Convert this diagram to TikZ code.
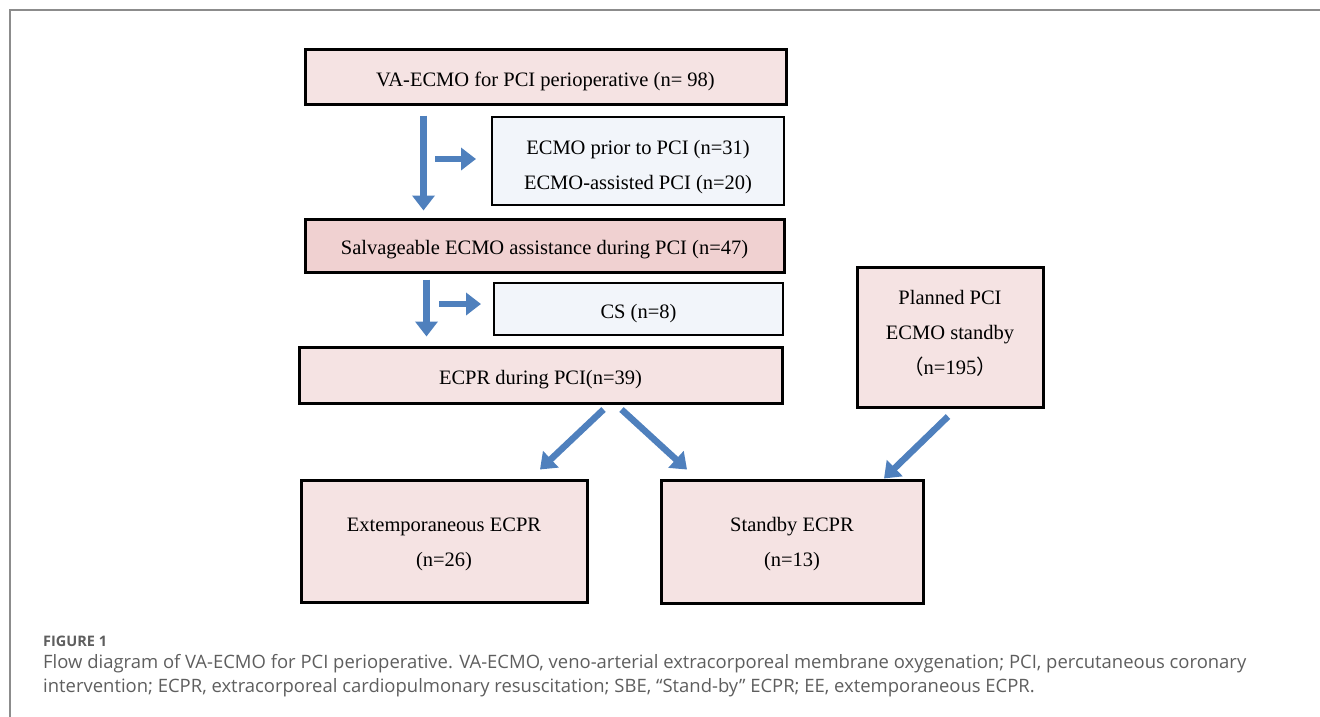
\documentclass[tikz,border=0pt]{standalone}
\usepackage{fontspec}
\setmainfont{Liberation Serif}
\newfontfamily\capfont{Open Sans}
\newfontfamily\cjk{Noto Sans CJK SC}
\usetikzlibrary{arrows.meta}
\definecolor{flowblue}{HTML}{4F80BD}
\definecolor{pinkfill}{HTML}{F5E3E3}
\definecolor{rosefill}{HTML}{F0D1D1}
\definecolor{bluefill}{HTML}{F2F5FA}
\definecolor{framegray}{HTML}{8C8C8C}
\definecolor{capgray}{HTML}{5E5E5E}
\newcommand\uppad[1]{\rule{0pt}{#1pt}}
\newcommand\lowpad[1]{\rule[-#1pt]{0pt}{#1pt}}
\begin{document}
\begin{tikzpicture}[x=1pt,y=-1pt,
    box/.style={draw=black,line width=3pt,fill=pinkfill,align=center,inner sep=0pt,
      font=\fontsize{20.5}{35}\selectfont},
    sidebox/.style={box,line width=2pt,fill=bluefill},
    flow/.style={draw=flowblue,line width=6.5pt,-{Triangle[width=22pt,length=15pt]}},
    captext/.style={anchor=base west,inner sep=0pt,text=capgray}]
    \useasboundingbox (0,0) rectangle (1320,717);
    \draw[framegray,line width=1.5pt] (10,717) -- (10,10) -- (1320,10);

    \node[box,minimum width=481pt,minimum height=54pt] (total) at (545.5,77) {\uppad{23}VA-ECMO for PCI perioperative (n= 98)};
    \node[sidebox,minimum width=292pt,minimum height=88pt] (prior) at (638,161) {\uppad{27}ECMO prior to PCI (n=31)\\ECMO-assisted PCI (n=20)};
    \node[box,fill=rosefill,minimum width=479pt,minimum height=53pt] (salv) at (544.5,245.5) {\uppad{23}Salvageable ECMO assistance during PCI (n=47)};
    \node[sidebox,minimum width=289pt,minimum height=52pt] (cs) at (638.5,309) {\uppad{23}CS (n=8)};
    \node[box,minimum width=483pt,minimum height=56pt] (ecpr) at (540.5,375) {\uppad{23}ECPR during PCI(n=39)};
    \node[box,minimum width=186pt,minimum height=140pt] (planned) at (950,337) {Planned PCI\\ECMO standby\\\smash{\cjk （}n=195\smash{\cjk ）}\lowpad{10}};
    \node[box,minimum width=286pt,minimum height=122pt] (extemp) at (444,541) {\uppad{21}Extemporaneous ECPR\\(n=26)};
    \node[box,minimum width=262pt,minimum height=123pt] (standby) at (792,541.5) {\uppad{19}Standby ECPR\\(n=13)};

    \draw[flow] ([xshift=120pt,yshift=-10pt]total.south west) -- ([xshift=120pt,yshift=7pt]salv.north west);
    \draw[flow] ([xshift=-56pt,yshift=2pt]prior.west) -- ([xshift=-15pt,yshift=2pt]prior.west);
    \draw[flow] ([xshift=123pt,yshift=-6pt]salv.south west) -- ([xshift=129pt,yshift=9pt]ecpr.north west);
    \draw[flow] ([xshift=-54pt,yshift=5pt]cs.west) -- ([xshift=-12pt,yshift=5pt]cs.west);
    \draw[flow] ([xshift=63pt,yshift=-5pt]ecpr.south) -- ([xshift=96pt,yshift=9pt]extemp.north);
    \draw[flow] ([xshift=81pt,yshift=-5pt]ecpr.south) -- ([xshift=-105pt,yshift=9pt]standby.north);
    \draw[flow] ([xshift=-2pt,yshift=-8pt]planned.south) -- ([xshift=92pt]standby.north);

    \node[captext,font=\capfont\fontsize{14.5}{17}\selectfont\bfseries] (fig) at (43,646) {FIGURE 1};
    \node[captext,font=\capfont\fontsize{18.45}{24}\selectfont] (cap1) at (43,668)
      {Flow diagram of VA-ECMO for PCI perioperative. VA-ECMO, veno-arterial extracorporeal membrane oxygenation; PCI, percutaneous coronary};
    \node[captext,font=\capfont\fontsize{18.45}{24}\selectfont] (cap2) at (43,692)
      {intervention; ECPR, extracorporeal cardiopulmonary resuscitation; SBE, “Stand-by” ECPR; EE, extemporaneous ECPR.};
\end{tikzpicture}
\end{document}
